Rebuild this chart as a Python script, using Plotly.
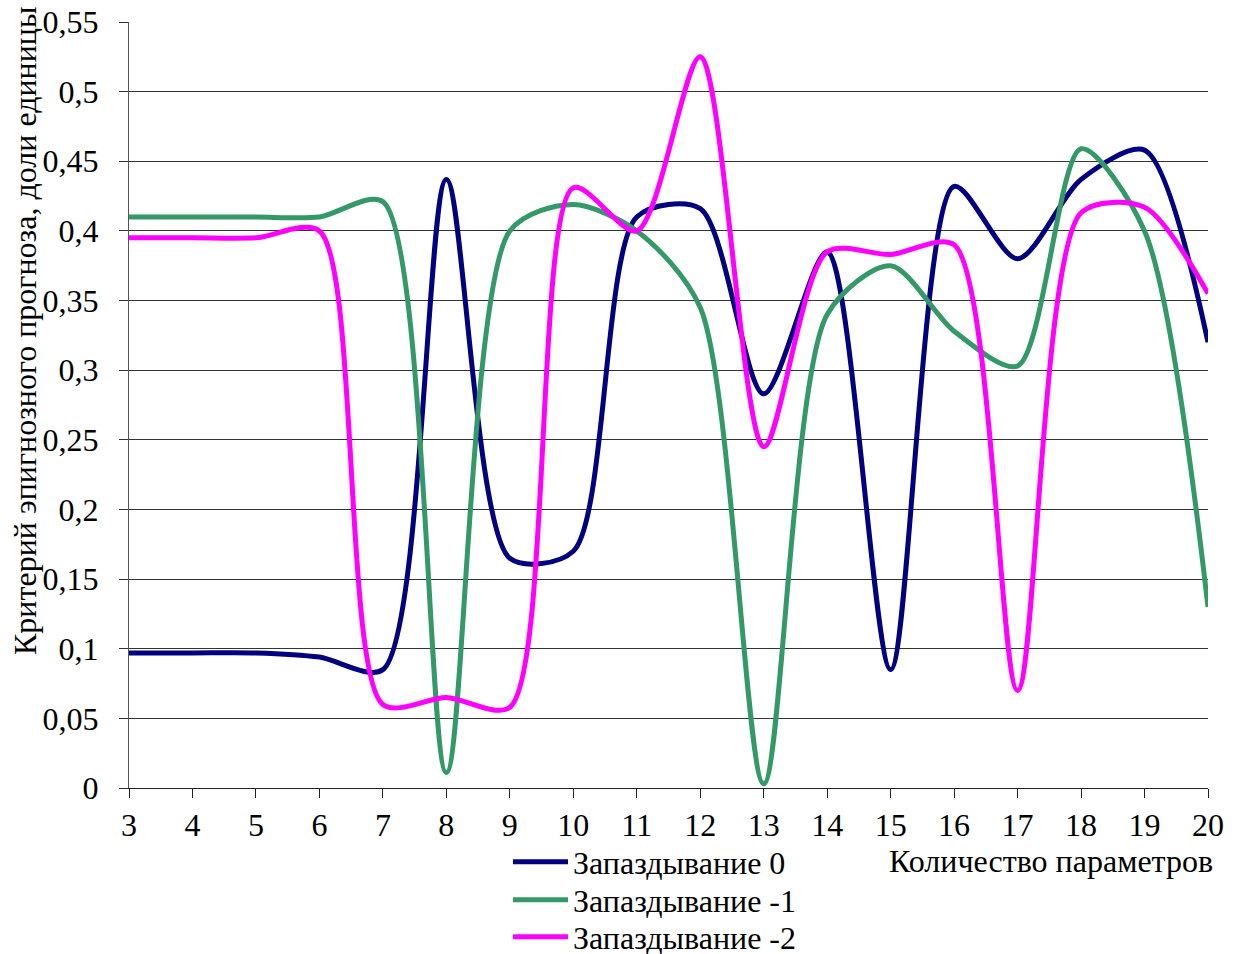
import plotly.graph_objects as go

params = list(range(3, 21))

lag0 = [0.097, 0.097, 0.097, 0.094, 0.085, 0.437, 0.165, 0.17, 0.41, 0.416,
        0.283, 0.385, 0.085, 0.432, 0.38, 0.437, 0.458, 0.32]
lag1 = [0.41, 0.41, 0.41, 0.41, 0.421, 0.011, 0.40, 0.419, 0.40, 0.345,
        0.003, 0.34, 0.375, 0.328, 0.303, 0.459, 0.40, 0.13]
lag2 = [0.395, 0.395, 0.395, 0.40, 0.06, 0.065, 0.058, 0.431, 0.40, 0.525,
        0.245, 0.385, 0.383, 0.39, 0.07, 0.413, 0.417, 0.355]

series_names = ["Запаздывание 0", "Запаздывание -1", "Запаздывание -2"]
series_colors = ["#000080", "#339966", "#FF00FF"]

y_ticks = [0, 0.05, 0.1, 0.15, 0.2, 0.25, 0.3, 0.35, 0.4, 0.45, 0.5, 0.55]
y_ticktext = ["0", "0,05", "0,1", "0,15", "0,2", "0,25", "0,3", "0,35",
              "0,4", "0,45", "0,5", "0,55"]

FONT = "Liberation Serif"
FS = 32
W, H = 1237, 954

legend_ids = ["legend", "legend2", "legend3"]
legend_rows_px = [862, 900, 937]

fig = go.Figure()
for name, vals, col, lid in zip(series_names, [lag0, lag1, lag2], series_colors, legend_ids):
    fig.add_trace(go.Scatter(
        x=params, y=vals, name=name, mode="lines", legend=lid,
        line=dict(color=col, width=5, shape="spline", smoothing=0.8),
        hoverinfo="skip",
    ))

legend_common = dict(
    xref="container", yref="container",
    xanchor="left", yanchor="middle",
    font=dict(family=FONT, size=FS, color="black"),
    bgcolor="rgba(0,0,0,0)", borderwidth=0, itemwidth=55,
)
legends = {}
for lid, ypx in zip(legend_ids, legend_rows_px):
    legends[lid] = dict(legend_common, x=508 / W, y=1 - ypx / H)

fig.update_layout(
    width=W, height=H,
    margin=dict(l=129, r=29, t=22, b=166, autoexpand=False),
    paper_bgcolor="white", plot_bgcolor="white",
    font=dict(family=FONT, size=FS, color="black"),
    showlegend=True,
    **legends,
)

fig.update_xaxes(
    range=[3, 20], tickmode="array", tickvals=params,
    ticktext=[str(p) for p in params],
    showgrid=False, zeroline=False,
    showline=True, linecolor="#222", linewidth=1,
    ticks="outside", ticklen=9, tickcolor="#222", tickwidth=1,
    tickfont=dict(family=FONT, size=FS, color="black"),
    ticklabelstandoff=0,
)
fig.update_yaxes(
    range=[0, 0.55], tickmode="array", tickvals=y_ticks, ticktext=y_ticktext,
    showgrid=True, gridcolor="#333", gridwidth=1, zeroline=False,
    showline=True, linecolor="#555", linewidth=1,
    ticks="outside", ticklen=9, tickcolor="#333", tickwidth=1,
    tickfont=dict(family=FONT, size=FS, color="black"),
    ticklabelstandoff=14,
)

fig.add_annotation(
    text="Количество параметров", xref="paper", yref="paper",
    x=(1215 - 129) / 1079, y=(788 - 861) / 766, xanchor="right", yanchor="middle",
    showarrow=False, font=dict(family=FONT, size=FS, color="black"),
)
fig.add_annotation(
    text="Критерий эпигнозного прогноза, доли единицы",
    xref="paper", yref="paper", x=(25 - 129) / 1079, y=(788 - 331) / 766,
    xanchor="center", yanchor="middle", textangle=-90,
    showarrow=False, font=dict(family=FONT, size=FS, color="black"),
)

fig.write_html("out.html")
